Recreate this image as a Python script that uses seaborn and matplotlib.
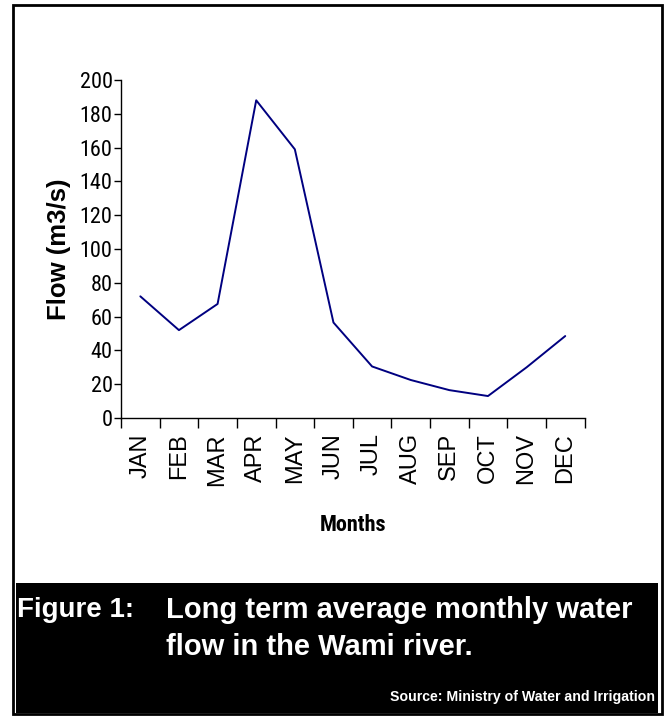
import matplotlib
matplotlib.use('Agg')
import matplotlib.pyplot as plt
import matplotlib.patches as patches
from matplotlib import font_manager as fm
import pandas as pd
import seaborn as sns

# Data
months = ['JAN', 'FEB', 'MAR', 'APR', 'MAY', 'JUN',
          'JUL', 'AUG', 'SEP', 'OCT', 'NOV', 'DEC']
flow = [72, 52, 67.5, 188, 159, 56.5, 30.5, 22.5, 16.5, 13, 30, 48.5]
y_ticks = [0, 20, 40, 60, 80, 100, 120, 140, 160, 180, 200]

caption_label = 'Figure 1:'
caption_lines = ['Long term average monthly water', 'flow in the Wami river.']
source_text = 'Source: Ministry of Water and Irrigation'

df = pd.DataFrame({'month': months, 'flow': flow})

sns.set_style('white', {'text.color': 'black', 'axes.labelcolor': 'black',
                        'xtick.color': 'black', 'ytick.color': 'black'})
plt.rcParams['font.family'] = ['Liberation Sans', 'DejaVu Sans']

# look for a condensed face for the narrow numbers, else fall back
names = {f.name for f in fm.fontManager.ttflist}
narrow = None
for cand in ['Liberation Sans Narrow', 'Arial Narrow', 'Roboto Condensed',
             'Open Sans Condensed', 'Noto Sans Condensed', 'DejaVu Sans Condensed']:
    if cand in names:
        narrow = dict(family=cand)
        break
if narrow is None:
    cond = [f for f in fm.fontManager.ttflist
            if 'condensed' in str(f.stretch) and 'extra' not in str(f.stretch)
            and f.style == 'normal']
    if cond:
        narrow = dict(family=cond[0].name, stretch=cond[0].stretch)
if narrow is None:
    narrow_sizes = {'ticks': 14, 'months': 14}
    narrow = dict(family='Liberation Sans')
else:
    narrow_sizes = {'ticks': 16, 'months': 16}

fig = plt.figure(figsize=(6.66, 7.17), dpi=100)
ax = fig.add_axes([0.1817, 0.417, 0.696, 0.4714])

sns.lineplot(data=df, x='month', y='flow', ax=ax, color='#000080',
             linewidth=1.4, sort=False)

ax.set_xlim(-0.5, len(months) - 0.5)
ax.set_ylim(0, 200)
ax.set_yticks(y_ticks)
ax.set_yticklabels([str(v) for v in y_ticks], fontsize=narrow_sizes['ticks'], **narrow)
# major ticks sit on the category boundaries, names on minor ticks
ax.set_xticks([i - 0.5 for i in range(len(months) + 1)])
ax.set_xticklabels([])
ax.set_xticks(range(len(months)), minor=True)
ax.set_xticklabels(months, minor=True, rotation=90, fontsize=17)
ax.tick_params(axis='x', which='major', bottom=True, direction='out',
               length=7, width=1, color='black')
ax.tick_params(axis='x', which='minor', bottom=True, length=0, pad=11)
ax.tick_params(axis='y', left=True, direction='out', length=5, width=1,
               color='black', pad=1)
for s in ['top', 'right']:
    ax.spines[s].set_visible(False)
for s in ['left', 'bottom']:
    ax.spines[s].set_color('black')
    ax.spines[s].set_linewidth(1)

ax.set_xlabel('Months', fontweight='bold', fontsize=narrow_sizes['months'],
              labelpad=20, **narrow)
ax.set_ylabel('Flow (m3/s)', fontweight='bold', fontsize=18.5, labelpad=6)

# outer frame and black caption box
W, H = 666, 717
fig.add_artist(patches.Rectangle((13 / W, 1 - 714 / H), 649 / W, 709 / H,
                                 transform=fig.transFigure, fill=False,
                                 edgecolor='black', linewidth=2))
fig.add_artist(patches.Rectangle((16 / W, 1 - 713 / H), 642 / W, 130 / H,
                                 transform=fig.transFigure, facecolor='black',
                                 edgecolor='none'))

fig.text(17 / W, 1 - 610 / H, caption_label, color='white', fontsize=20,
         fontweight='bold', va='center', ha='left')
fig.text(166 / W, 1 - 610 / H, caption_lines[0], color='white', fontsize=21,
         fontweight='bold', va='center', ha='left')
fig.text(166 / W, 1 - 647 / H, caption_lines[1], color='white', fontsize=21,
         fontweight='bold', va='center', ha='left')
fig.text(655 / W, 1 - 697 / H, source_text, color='white', fontsize=10.2,
         fontweight='bold', va='center', ha='right')

fig.savefig('out.png', dpi=100)
